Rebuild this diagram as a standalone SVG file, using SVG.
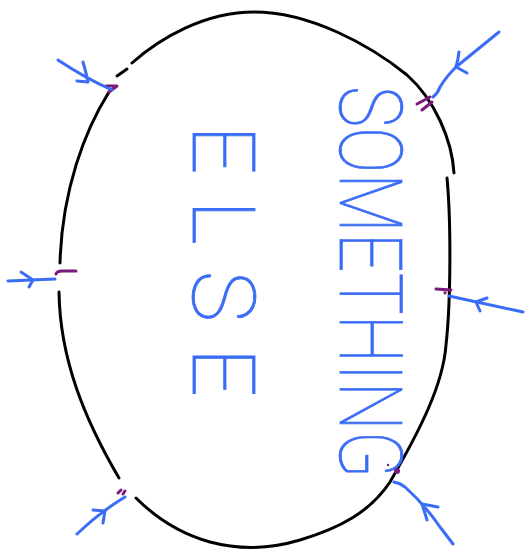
<svg xmlns="http://www.w3.org/2000/svg" width="531" height="550" viewBox="0 0 531 550">
<style>
.ln{fill:none;stroke:#000;stroke-width:3;stroke-linecap:round;stroke-linejoin:round}
.bl{fill:none;stroke:#3b6cf6;stroke-width:3;stroke-linecap:round;stroke-linejoin:round}
.pu{fill:none;stroke:#7a1a7a;stroke-width:3;stroke-linecap:round;stroke-linejoin:round}
.tx{fill:#3b6cf6;stroke:#3b6cf6;stroke-width:0.8;font-family:Roboto,Inter,"Open Sans","Liberation Sans",sans-serif;font-weight:100;font-size:87px}
</style>
<rect width="531" height="550" fill="#fff"/>
<g id="shape">
<path class="ln" d="M132,63 C160,38 205,12 254,12 C310,12 370,45 407,75 C435,100 452,140 454,173"/>
<path class="ln" d="M117,76 L127,69"/>
<path class="ln" d="M447,178 C451,220 451,300 446,345 C443,385 420,430 390,482 C370,512 340,528 300,540 C270,549 240,550 210,542 C185,535 158,520 136,498"/>
<path class="ln" d="M109,92 C85,130 62,190 60,263"/>
<path class="ln" d="M59,292 C60,360 85,420 119,478"/>
</g>
<g id="label-something">
<text class="tx" transform="translate(340,86) rotate(90) scale(0.75,1)" textLength="523" lengthAdjust="spacingAndGlyphs">SOMETHING</text>
</g>
<g id="label-else">
<text class="tx" transform="translate(193,125) rotate(90)" textLength="272" lengthAdjust="spacing">ELSE</text>
</g>
<g id="marks">
<path class="pu" d="M106,86 L117,86 L109,92"/>
<path class="pu" d="M417,104 L430,97 M422,110 L432,102"/>
<path class="pu" d="M56,274 Q57,271 62,271 L76,271"/>
<path class="pu" d="M436,289 L451,290 M445,290 L445,293"/>
<circle cx="397" cy="471" r="3" fill="#7a1a7a"/>
<circle cx="388" cy="465" r="1.2" fill="#7a1a7a"/>
<path class="pu" d="M118,493 L121,490 M123,494 L125,491" stroke-width="2"/>
</g>
<g id="connectors">
<path class="bl" d="M58,60 Q85,78 112,90"/>
<path class="bl" d="M83,62 Q86,72 88,82 L77,81"/>
<path class="bl" d="M499,32 L456,67 Q446,77 440,87 Q438,93 433,97"/>
<path class="bl" d="M459,52 Q458,60 456,67 L467,73"/>
<path class="bl" d="M8,281 L55,279"/>
<path class="bl" d="M21,272 L33,280 L29,287"/>
<path class="bl" d="M449,296 L523,312"/>
<path class="bl" d="M487,298 L476,302 L480,311"/>
<path class="bl" d="M394,482 Q400,483 405,487 Q425,505 440,527 L453,544"/>
<path class="bl" d="M438,507 L422,504 L427,520"/>
<path class="bl" d="M77,534 Q100,512 125,497"/>
<path class="bl" d="M93,510 L105,511 L103,523"/>
</g>
</svg>
